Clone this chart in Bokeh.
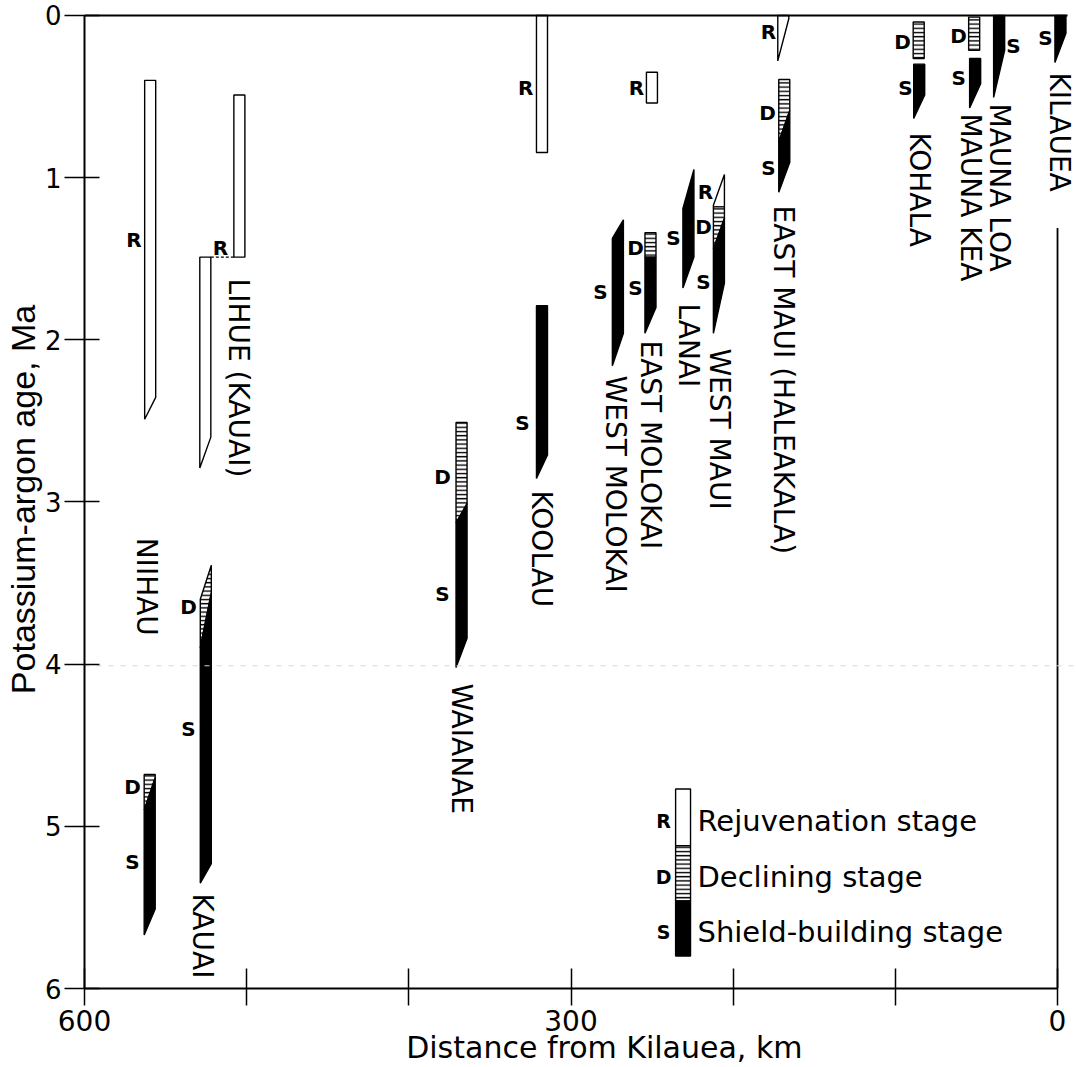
import numpy as np
from bokeh.plotting import figure
from bokeh.models import Range1d, FixedTicker, ColumnDataSource
from bokeh.embed import file_html
from bokeh.resources import INLINE
from bokeh.core.properties import value

# ---------------- DATA ----------------
# Stage segments: distance from Kilauea (km) and K-Ar age limits (Ma)
seg_volcano = ["Niihau", "Niihau", "Niihau", "Lihue", "Lihue", "Kauai", "Kauai",
               "Waianae", "Waianae", "Koolau", "Koolau", "West Molokai",
               "East Molokai", "East Molokai", "East Molokai", "Lanai",
               "West Maui", "West Maui", "West Maui",
               "East Maui", "East Maui", "East Maui",
               "Kohala", "Kohala", "Mauna Kea", "Mauna Kea", "Mauna Loa", "Kilauea"]
seg_stage = ["R", "D", "S", "R", "R", "D", "S",
             "D", "S", "R", "S", "S",
             "R", "D", "S", "S",
             "R", "D", "S",
             "R", "D", "S",
             "D", "S", "D", "S", "S", "S"]
seg_dist = [559.5, 559.8, 559.8, 504.5, 525.5, 525.2, 525.2,
            367.5, 367.5, 317.9, 317.9, 271.1,
            250.1, 251.0, 251.0, 227.6,
            208.8, 208.8, 208.8,
            169.1, 168.5, 168.5,
            85.6, 85.3, 51.4, 50.8, 36.0, -1.8]
seg_top_left = [0.40, 4.68, 4.90, 0.49, 1.49, 3.60, 3.90,
                2.51, 3.13, 0.00, 1.79, 1.375,
                0.35, 1.34, 1.49, 1.19,
                1.17, 1.18, 1.44,
                0.00, 0.395, 0.78,
                0.04, 0.30, 0.01, 0.265, 0.00, 0.00]
seg_top_right = [0.40, 4.68, 4.70, 0.49, 1.49, 3.39, 3.56,
                 2.51, 3.01, 0.00, 1.79, 1.26,
                 0.35, 1.34, 1.49, 0.95,
                 0.98, 1.18, 1.25,
                 0.00, 0.395, 0.585,
                 0.04, 0.30, 0.01, 0.265, 0.00, 0.00]
seg_bot_left = [2.49, 4.90, 5.67, 1.49, 2.79, 3.90, 5.35,
                3.13, 4.02, 0.845, 2.855, 2.16,
                0.54, 1.49, 1.96, 1.68,
                1.18, 1.44, 1.96,
                0.28, 0.78, 1.09,
                0.265, 0.635, 0.215, 0.57, 0.505, 0.29]
seg_bot_right = [2.355, 4.70, 5.51, 1.49, 2.60, 3.56, 5.23,
                 3.01, 3.84, 0.845, 2.71, 1.96,
                 0.54, 1.49, 1.80, 1.49,
                 1.18, 1.25, 1.65,
                 0.02, 0.585, 0.905,
                 0.265, 0.49, 0.215, 0.42, 0.215, 0.11]

# Stage letters beside the strips
lab_letter = ["R", "R", "D", "S", "D", "S", "D", "S", "R", "S", "R", "S", "D", "S",
              "S", "R", "D", "S", "R", "D", "S", "D", "S", "D", "S", "S", "S"]
lab_dist = [569.5, 516.1, 535.9, 535.9, 570.4, 570.4, 379.2, 379.2, 328.0, 329.9,
            259.6, 281.8, 260.2, 260.2, 236.8, 217.1, 218.3, 218.3,
            178.2, 178.8, 178.2, 95.6, 93.7, 61.0, 61.0, 27.1, 7.4]
lab_age = [1.387, 1.431, 3.650, 4.397, 4.760, 5.223, 2.843, 3.570, 0.444, 2.510,
           0.444, 1.708, 1.431, 1.683, 1.369, 1.091, 1.307, 1.646,
           0.099, 0.604, 0.943, 0.166, 0.450, 0.129, 0.388, 0.185, 0.136]

# Volcano names
name_text = ["LIHUE (KAUAI)", "NIIHAU", "KAUAI", "WAIANAE", "KOOLAU", "WEST MOLOKAI",
             "EAST MOLOKAI", "LANAI", "WEST MAUI", "EAST MAUI (HALEAKALA)", "KOHALA",
             "MAUNA KEA", "MAUNA LOA", "KILAUEA"]
name_dist = [505.0, 562.0, 527.2, 367.5, 318.2, 272.6, 251.0, 227.5, 208.4, 169.0,
             85.1, 53.6, 35.8, -1.0]
name_age = [1.622, 3.22, 5.414, 4.119, 2.929, 2.220, 2.004, 1.776, 2.053, 1.172,
            0.721, 0.604, 0.543, 0.351]

x_ticks = [0, 100, 200, 300, 400, 500, 600]
y_ticks = [0, 1, 2, 3, 4, 5, 6]

legend_stage = ["R", "D", "S"]
legend_text = ["Rejuvenation  stage", "Declining stage", "Shield-building stage"]

# ---------------- FIGURE ----------------
FONT = "DejaVu Sans"
HW = 3.4  # half width of a strip, km
PXKM = 1.6217

p = figure(frame_width=992, frame_height=978, min_border_left=84, min_border_right=0,
           min_border_top=10, min_border_bottom=78,
           x_range=Range1d(600, 600 - 992 / PXKM), y_range=Range1d(6, -5 / 162.17),
           output_backend="svg", toolbar_location=None, tools="")
p.xgrid.visible = False
p.ygrid.visible = False
p.outline_line_color = None
p.background_fill_color = "white"

fills = {"R": "white", "D": "white", "S": "black"}
xs, ys, fc, hp = [], [], [], []
for d, st, tl, tr, bl, br in zip(seg_dist, seg_stage, seg_top_left, seg_top_right,
                                 seg_bot_left, seg_bot_right):
    xs.append([d + HW, d - HW, d - HW, d + HW])
    ys.append([tl, tr, br, bl])
    fc.append(fills[st])
    hp.append("horizontal_line" if st == "D" else " ")
src = ColumnDataSource(dict(xs=xs, ys=ys, fc=fc, hp=hp))
p.patches("xs", "ys", source=src, fill_color="fc", line_color="black", line_width=1.4,
          hatch_pattern="hp", hatch_color="black", hatch_scale=4.2, hatch_weight=1.4)

# Lihue connecting (dashed) edge
p.line([525.5 - HW, 504.5 + HW], [1.49, 1.49], line_color="black", line_width=1.2,
       line_dash="3 2")

# frame lines
p.line([600, -6.2], [0, 0], line_color="black", line_width=2)
p.line([0, 0], [1.31, 6], line_color="black", line_width=1.8)
# faint scan crease
p.line([600, -10], [4.01, 4.01], line_color="#d6d6d6", line_width=1, line_dash="5 7")

# stage letters
p.text(lab_dist, lab_age, text=lab_letter, text_font=value(FONT), text_font_style="bold",
       text_font_size="20px", text_align="center", text_baseline="middle", text_color="black")

# names (rotated)
for t, d, a in zip(name_text, name_dist, name_age):
    p.text([d], [a], text=[t], angle=-np.pi / 2, text_font=value(FONT), text_font_size="28px",
           text_align="left", text_baseline="middle", text_color="black")

# legend
lx = 230.9
lhw = 4.6
leg_top = [4.77, 5.12, 5.46]
leg_bot = [5.12, 5.46, 5.80]
for st, t0, t1, txt in zip(legend_stage, leg_top, leg_bot, legend_text):
    p.patch([lx + lhw, lx - lhw, lx - lhw, lx + lhw], [t0, t0, t1, t1],
            fill_color=fills[st], line_color="black", line_width=1.4,
            hatch_pattern="horizontal_line" if st == "D" else " ",
            hatch_color="black", hatch_scale=4.2, hatch_weight=1.4)
    ym = (t0 + t1) / 2 + 0.02
    p.text([lx + 12.0], [ym], text=[st], text_font=value(FONT), text_font_style="bold",
           text_font_size="19px", text_align="center", text_baseline="middle")
    p.text([222.0], [ym], text=[txt], text_font=value(FONT), text_font_size="29px",
           text_align="left", text_baseline="middle")

# axes
xa = p.xaxis[0]
xa.ticker = FixedTicker(ticks=x_ticks)
xa.major_label_overrides = {100: "", 200: "", 400: "", 500: ""}
xa.bounds = (0, 600)
xa.axis_line_width = 2
xa.major_tick_in = 20
xa.major_tick_out = 17
xa.major_tick_line_width = 1.5
xa.minor_tick_line_color = None
xa.major_label_text_font = FONT
xa.major_label_text_font_size = "28px"
xa.major_label_text_color = "black"
xa.major_label_standoff = 4
xa.axis_label = "\u00a0" * 5 + "Distance from Kilauea, km"
xa.axis_label_text_font = FONT
xa.axis_label_text_font_size = "30px"
xa.axis_label_text_font_style = "normal"
xa.axis_label_text_color = "black"
xa.axis_label_standoff = -4

ya = p.yaxis[0]
ya.ticker = FixedTicker(ticks=y_ticks)
ya.bounds = (0, 6)
ya.axis_line_width = 2
ya.major_tick_in = 15
ya.major_tick_out = 20
ya.major_tick_line_width = 1.5
ya.minor_tick_line_color = None
ya.major_label_text_font = FONT
ya.major_label_text_font_size = "26px"
ya.major_label_text_color = "black"
ya.major_label_standoff = 3
ya.axis_label = "Potassium-argon age, Ma"
ya.axis_label_text_font = "Liberation Sans"
ya.axis_label_text_font_size = "34px"
ya.axis_label_text_font_style = "normal"
ya.axis_label_text_color = "black"
ya.axis_label_standoff = 0

open("out.html", "w").write(file_html(p, INLINE))
